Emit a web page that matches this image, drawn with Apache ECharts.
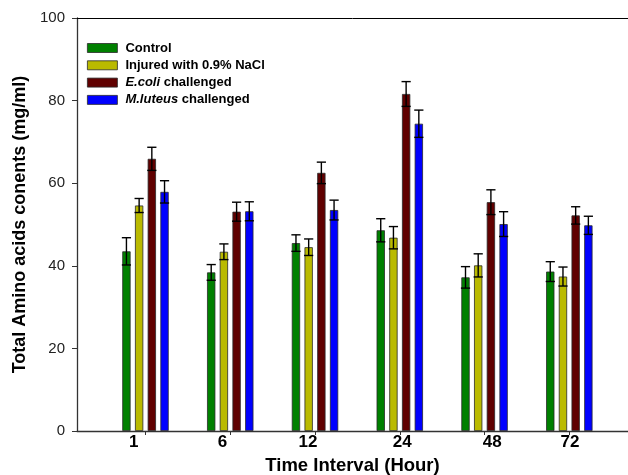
<!DOCTYPE html>
<html>
<head>
<meta charset="utf-8">
<script src="https://cdn.jsdelivr.net/npm/echarts@6/dist/echarts.min.js"></script>
<style>html,body{margin:0;padding:0;background:#fff}#c{width:628px;height:475px}</style>
</head>
<body>
<div id="c"></div>
<script>
// ---- data ----
const categories = ['1', '6', '12', '24', '48', '72'];
const seriesNames = ['Control', 'Injured with 0.9% NaCl', 'E.coli challenged', 'M.luteus challenged'];
const control     = [43.5, 38.4, 45.5, 48.6, 37.2, 38.6];
const controlErr  = [3.3, 1.9, 2.0, 2.8, 2.6, 2.4];
const injured     = [54.6, 43.4, 44.5, 46.8, 40.1, 37.4];
const injuredErr  = [1.7, 1.9, 2.0, 2.7, 2.8, 2.3];
const ecoli       = [65.9, 53.1, 62.5, 81.6, 55.4, 52.2];
const ecoliErr    = [2.8, 2.3, 2.6, 3.0, 3.0, 2.1];
const mluteus     = [57.9, 53.2, 53.5, 74.4, 50.1, 49.8];
const mluteusErr  = [2.7, 2.3, 2.4, 3.3, 3.0, 2.2];
const yTicks = [0, 20, 40, 60, 80, 100];

// ---- styling ----
const colors = ['#008000', '#baba00', '#600000', '#0000ff'];
const FONT = '"Liberation Sans", Arial, sans-serif';
const BAR_W = 8.3;
const GAP_RATIO = 0.53;
const AXIS_C = '#333';
// small horizontal nudges of the category labels (px), as in the original figure
const labelNudge = [-11.7, -7.7, -7, 2.4, 7.7, 0.7];

const values = [control, injured, ecoli, mluteus];
const errs = [controlErr, injuredErr, ecoliErr, mluteusErr];

function errRender(s) {
  return function (params, api) {
    const i = api.value(0), v = api.value(1), e = api.value(2);
    const c = api.coord([i, v]);
    const step = BAR_W * (1 + GAP_RATIO);
    const x = c[0] + (s - 1.5) * step;
    const yt = api.coord([i, v + e])[1];
    const yb = api.coord([i, v - e])[1];
    const hw = 4.6;
    const st = { stroke: '#000', lineWidth: 1.4 };
    return {
      type: 'group',
      children: [
        { type: 'line', shape: { x1: x, y1: yt, x2: x, y2: yb }, style: st },
        { type: 'line', shape: { x1: x - hw, y1: yt, x2: x + hw, y2: yt }, style: st },
        { type: 'line', shape: { x1: x - hw, y1: yb, x2: x + hw, y2: yb }, style: st }
      ]
    };
  };
}

const series = [];
values.forEach((arr, s) => {
  series.push({
    name: seriesNames[s], type: 'bar', xAxisIndex: 2, yAxisIndex: 1,
    data: arr, barWidth: BAR_W, barGap: (GAP_RATIO * 100) + '%',
    itemStyle: { color: colors[s], borderColor: '#2a2a2a', borderWidth: 0.8 },
    z: 2
  });
});
values.forEach((arr, s) => {
  series.push({
    name: 'err' + s, type: 'custom', xAxisIndex: 2, yAxisIndex: 1,
    renderItem: errRender(s),
    data: arr.map((v, i) => [i, v, errs[s][i]]),
    encode: { x: 0, y: 1 }, z: 5, silent: true
  });
});

const catData = categories.map((c, i) => {
  const n = labelNudge[i];
  const pad = n < 0 ? [0, -2 * n, 0, 0] : [0, 0, 0, 2 * n];
  return { value: c, textStyle: { padding: pad } };
});

const chart = echarts.init(document.getElementById('c'), null, { renderer: 'canvas' });
chart.setOption({
  animation: false,
  backgroundColor: '#fff',
  textStyle: { fontFamily: FONT },
  grid: [
    { left: 77, right: 0, top: 18, bottom: 44, containLabel: false, outerBoundsMode: 'none' },
    { left: 103.1, right: 16.3, top: 18, bottom: 44, containLabel: false, outerBoundsMode: 'none' }
  ],
  legend: {
    data: seriesNames,
    orient: 'vertical', left: 87, top: 41, padding: 0,
    itemWidth: 30, itemHeight: 9, itemGap: 3.3,
    icon: 'rect',
    itemStyle: { borderColor: '#2a2a2a', borderWidth: 0.8 },
    formatter: function (name) {
      if (name === 'E.coli challenged') return '{i|E.coli}{b| challenged}';
      if (name === 'M.luteus challenged') return '{i|M.luteus}{b| challenged}';
      return '{b|' + name + '}';
    },
    textStyle: {
      padding: [0, 0, 0, 3], lineHeight: 14,
      rich: {
        b: { fontFamily: FONT, fontWeight: 'bold', fontSize: 13, lineHeight: 14, color: '#000' },
        i: { fontFamily: FONT, fontWeight: 'bold', fontStyle: 'italic', fontSize: 13, lineHeight: 14, color: '#000' }
      }
    }
  },
  xAxis: [
    {
      gridIndex: 0, type: 'value', min: 0, max: 1, position: 'bottom',
      axisLine: { show: true, lineStyle: { color: AXIS_C, width: 1.3 } },
      axisTick: { show: false }, axisLabel: { show: false }, splitLine: { show: false },
      name: 'Time Interval (Hour)', nameLocation: 'middle', nameGap: 25,
      nameTextStyle: { fontFamily: FONT, fontWeight: 'bold', fontSize: 18.5, color: '#000' }
    },
    {
      gridIndex: 0, type: 'value', min: 0, max: 1, position: 'top',
      axisLine: { show: true, lineStyle: { color: '#000', width: 1 } },
      axisTick: { show: false }, axisLabel: { show: false }, splitLine: { show: false }
    },
    {
      gridIndex: 1, type: 'category', data: catData, position: 'bottom',
      axisLine: { show: false },
      axisTick: { show: true, alignWithLabel: true, length: 4, lineStyle: { color: AXIS_C, width: 1 } },
      axisLabel: { margin: 3, fontFamily: FONT, fontWeight: 'bold', fontSize: 17, color: '#000' },
      splitLine: { show: false }
    }
  ],
  yAxis: [
    {
      gridIndex: 0, type: 'value', min: yTicks[0], max: yTicks[yTicks.length - 1], interval: 20,
      axisLine: { show: true, lineStyle: { color: AXIS_C, width: 1.3 } },
      axisTick: { show: true, length: 5, lineStyle: { color: AXIS_C, width: 1 } },
      axisLabel: { margin: 12, fontFamily: FONT, fontSize: 15, color: '#222' },
      splitLine: { show: false },
      name: 'Total Amino acids conents (mg/ml)', nameLocation: 'middle', nameGap: 44, nameRotate: 90,
      nameTextStyle: { fontFamily: FONT, fontWeight: 'bold', fontSize: 18, color: '#000' }
    },
    {
      gridIndex: 1, type: 'value', min: yTicks[0], max: yTicks[yTicks.length - 1],
      show: false
    }
  ],
  series: series
});
</script>
</body>
</html>
